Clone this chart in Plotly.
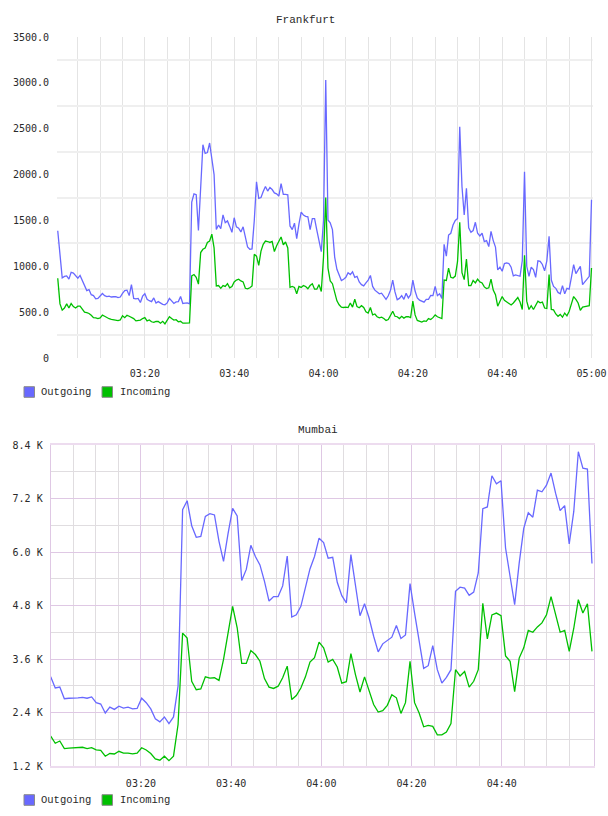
import pandas as pd
import plotly.graph_objects as go

W, H = 608, 816

# ---------------- data ----------------
fra_outgoing = [
    1388, 1150, 873, 890, 895, 860, 935, 925, 900, 870,
    900, 840, 780, 735, 746, 690, 680, 645, 650, 672,
    703, 680, 670, 674, 665, 668, 670, 658, 665, 705,
    735, 740, 680, 800, 650, 645, 650, 605, 674, 700,
    640, 625, 615, 655, 600, 615, 595, 585, 580, 601,
    650, 625, 595, 612, 615, 670, 595, 598, 600, 590,
    1700, 1790, 1780, 1390, 1950, 2326, 2230, 2240, 2344, 2163,
    2000, 1402, 1450, 1410, 1560, 1475, 1495, 1435, 1370, 1529,
    1430, 1415, 1375, 1430, 1315, 1210, 1185, 1190, 1500, 1920,
    1740, 1750, 1815, 1870, 1820, 1860, 1837, 1800, 1790, 1765,
    1900, 1785, 1783, 1780, 1440, 1400, 1470, 1300, 1460, 1590,
    1560, 1545, 1540, 1400, 1520, 1520, 1395, 1280, 1160, 1500,
    3030, 1505, 1475, 1400, 1100, 967, 900, 845, 859, 880,
    930, 910, 940, 880, 890, 830, 800, 786, 820, 850,
    900, 780, 740, 720, 700, 707, 668, 640, 678, 740,
    850, 720, 636, 650, 680, 640, 705, 655, 690, 850,
    730, 656, 630, 620, 609, 640, 640, 681, 680, 780,
    680, 700, 650, 1240, 1110, 1340, 1360, 1450, 1500, 1520,
    2520, 1870, 1560, 1850, 1420, 1370, 1390, 1480, 1360, 1330,
    1360, 1270, 1280, 1215, 1380, 1280, 1210, 960, 990, 946,
    1030, 1036, 1030, 990, 895, 905, 895, 891, 1060, 2030,
    1000, 891, 990, 964, 880, 1060, 1054, 1020, 950, 1060,
    1326, 850, 780, 760, 715, 700, 790, 700, 760, 750,
    880, 1018, 920, 960, 1000, 800, 830, 855, 890, 1725,
]
fra_incoming = [
    870, 590, 522, 545, 590, 545, 594, 560, 545, 565,
    565, 530, 500, 495, 485, 465, 440, 438, 430, 438,
    467, 455, 438, 428, 422, 415, 412, 408, 415, 460,
    440, 465, 455, 440, 430, 405, 410, 413, 430, 440,
    405, 415, 395, 388, 400, 398, 380, 400, 372, 413,
    450, 430, 413, 418, 395, 400, 380, 380, 384, 384,
    895, 910, 880, 805, 1150, 1185, 1200, 1260, 1275, 1350,
    1200, 786, 790, 760, 790, 780, 810, 765, 780, 830,
    850, 860, 840, 830, 760, 754, 766, 786, 1130, 1110,
    1010, 1165, 1240, 1275, 1270, 1260, 1270, 1160, 1225, 1275,
    1320, 1235, 1265, 1200, 770, 780, 770, 700, 780, 770,
    790, 780, 755, 790, 810, 750, 750, 800, 725, 1100,
    1750, 980, 841, 810, 700, 623, 580, 555, 551, 555,
    550, 600, 555, 640, 560, 548, 570, 551, 505, 490,
    550, 470, 480, 450, 437, 445, 430, 410, 420, 465,
    510, 455, 450, 430, 455, 435, 450, 450, 440, 620,
    470, 410, 400, 392, 405, 400, 430, 420, 440, 470,
    450, 440, 430, 850, 845, 980, 880, 872, 893, 1050,
    1480, 930, 855, 1080, 790, 790, 845, 819, 860, 830,
    819, 775, 757, 765, 860, 740, 690, 565, 610, 670,
    630, 610, 594, 578, 600, 630, 660, 610, 529, 1120,
    620, 529, 570, 529, 580, 620, 601, 610, 545, 540,
    909, 530, 525, 480, 455, 475, 445, 490, 460, 510,
    590, 670, 640, 600, 520, 555, 560, 565, 570, 982,
]

# Mumbai values in thousands (K)
mum_outgoing_k = [
    3.20, 2.95, 2.97, 2.71, 2.72, 2.72, 2.73, 2.74, 2.72, 2.75,
    2.62, 2.59, 2.39, 2.52, 2.47, 2.54, 2.50, 2.52, 2.48, 2.49,
    2.72, 2.62, 2.48, 2.26, 2.19, 2.30, 2.15, 2.30, 2.99, 6.95,
    7.15, 6.59, 6.33, 6.35, 6.80, 6.86, 6.83, 6.24, 5.79, 6.42,
    6.98, 6.81, 5.36, 5.61, 6.15, 5.90, 5.71, 5.34, 4.90, 5.00,
    5.00, 5.24, 5.91, 4.54, 4.59, 4.78, 5.19, 5.62, 5.90,
    6.31, 6.21, 5.86, 5.88, 5.32, 5.02, 4.86, 5.94, 5.23, 4.57,
    4.84, 4.52, 4.11, 3.76, 3.94, 4.01, 4.09, 4.35, 4.06, 4.14,
    5.29, 4.63, 4.03, 3.39, 3.45, 3.90, 3.36, 3.06, 3.19, 3.36,
    5.12, 5.21, 5.19, 5.03, 5.10, 5.53, 6.97, 7.01, 7.71, 7.53,
    7.60, 6.09, 5.45, 4.82, 5.75, 6.53, 6.88, 6.78, 7.39, 7.35,
    7.50, 7.77, 7.32, 6.93, 7.04, 6.18, 6.91, 8.25, 7.88, 7.86,
    5.74,
]
mum_incoming_k = [
    1.87, 1.71, 1.76, 1.59, 1.60, 1.61, 1.61, 1.62, 1.59, 1.61,
    1.56, 1.55, 1.42, 1.48, 1.47, 1.53, 1.49, 1.49, 1.47, 1.49,
    1.61, 1.56, 1.48, 1.36, 1.33, 1.42, 1.32, 1.42, 2.13, 4.18,
    4.07, 3.10, 2.91, 2.93, 3.20, 3.17, 3.18, 3.12, 3.59, 4.18,
    4.78, 4.30, 3.50, 3.50, 3.79, 3.70, 3.55, 3.16, 2.97, 2.94,
    2.99, 3.18, 3.44, 2.69, 2.78, 2.95, 3.20, 3.53, 3.63,
    3.98, 3.85, 3.53, 3.59, 3.42, 3.06, 3.09, 3.72, 3.25, 2.86,
    3.20, 2.90, 2.58, 2.41, 2.44, 2.56, 2.80, 2.73, 2.38, 2.62,
    3.55, 2.62, 2.39, 2.08, 2.11, 2.09, 1.90, 1.90, 1.96, 2.15,
    3.36, 3.22, 3.32, 2.97, 3.10, 3.36, 4.85, 4.05, 4.59, 4.63,
    4.57, 3.67, 3.55, 2.87, 3.62, 3.85, 4.24, 4.20, 4.32, 4.41,
    4.59, 5.00, 4.61, 4.20, 4.24, 3.77, 4.29, 4.93, 4.63, 4.84,
    3.77,
]

series_names = ["Outgoing", "Incoming"]
chart_titles = ["Frankfurt", "Mumbai"]

fra_ytick_vals = [0, 500, 1000, 1500, 2000, 2500, 3000, 3500]
fra_ytick_text = ["0", "500.0", "1000.0", "1500.0", "2000.0", "2500.0", "3000.0", "3500.0"]
fra_ygrid_vals = [250, 750, 1250, 1750, 2250, 2750, 3250]
fra_xtick_text = ["03:20", "03:40", "04:00", "04:20", "04:40", "05:00"]

mum_ytick_vals = [1.2, 2.4, 3.6, 4.8, 6.0, 7.2, 8.4]
mum_ytick_text = ["1.2 K", "2.4 K", "3.6 K", "4.8 K", "6.0 K", "7.2 K", "8.4 K"]
mum_ygrid_minor = [1.8, 3.0, 4.2, 5.4, 6.6, 7.8]
mum_xtick_text = ["03:20", "03:40", "04:00", "04:20", "04:40"]

DAY = "2024-01-01 "
fra_time = pd.date_range(DAY + "03:00:30", periods=len(fra_outgoing), freq="30s")
mum_time = pd.date_range(DAY + "03:00:00", DAY + "05:00:00", periods=len(mum_outgoing_k))

fra_xtick_vals = [pd.Timestamp(DAY + t) for t in fra_xtick_text]
mum_xtick_vals = [pd.Timestamp(DAY + t) for t in mum_xtick_text]
fra_minor_x = list(pd.date_range(DAY + "03:05", DAY + "04:55", freq="5min"))
mum_minor_x = list(pd.date_range(DAY + "03:05", DAY + "04:55", freq="5min"))

# ---------------- style ----------------
BLUE = "#6868ff"
GREEN = "#00c000"
AXFONT = "DejaVu Sans Mono"
LGFONT = "Liberation Mono"
TXT = "#2a2a2a"


def px_x(p):
    return p / W


def px_y(p):
    return 1 - p / H


fig = go.Figure()
fig.add_trace(go.Scatter(x=fra_time, y=fra_outgoing, mode="lines", name=series_names[0],
                         line=dict(color=BLUE, width=1.3), xaxis="x", yaxis="y"))
fig.add_trace(go.Scatter(x=fra_time, y=fra_incoming, mode="lines", name=series_names[1],
                         line=dict(color=GREEN, width=1.3), xaxis="x", yaxis="y"))
fig.add_trace(go.Scatter(x=mum_time, y=mum_outgoing_k, mode="lines", name=series_names[0],
                         line=dict(color=BLUE, width=1.3), xaxis="x2", yaxis="y2"))
fig.add_trace(go.Scatter(x=mum_time, y=mum_incoming_k, mode="lines", name=series_names[1],
                         line=dict(color=GREEN, width=1.3), xaxis="x2", yaxis="y2"))

tickfont = dict(family=AXFONT, size=10, color=TXT)

fig.update_layout(
    width=W, height=H, autosize=False,
    margin=dict(l=0, r=0, t=0, b=0, pad=0),
    paper_bgcolor="white", plot_bgcolor="white",
    showlegend=False, hovermode=False,
    xaxis=dict(
        domain=[px_x(57), px_x(593)], automargin=False,
        range=[pd.Timestamp(DAY + "03:00:20"), pd.Timestamp(DAY + "05:00:20")],
        tickmode="array", tickvals=fra_xtick_vals, ticktext=fra_xtick_text,
        showgrid=True, gridcolor="#e4e4e4", gridwidth=1,
        minor=dict(tickmode="array", tickvals=fra_minor_x, showgrid=True,
                   gridcolor="#e4e4e4", gridwidth=1, ticks=""),
        ticks="outside", ticklen=6, tickcolor="rgba(0,0,0,0)",
        tickfont=tickfont, showline=False, zeroline=False, anchor="y",
    ),
    yaxis=dict(
        domain=[px_y(358), px_y(37)], automargin=False,
        range=[0, 3500],
        tickmode="array", tickvals=fra_ytick_vals, ticktext=fra_ytick_text,
        showgrid=False,
        minor=dict(tickmode="array", tickvals=fra_ygrid_vals, showgrid=True,
                   gridcolor="#efefef", gridwidth=2, ticks=""),
        ticks="outside", ticklen=5, tickcolor="rgba(0,0,0,0)",
        tickfont=tickfont, showline=False, zeroline=False, anchor="x",
    ),
    xaxis2=dict(
        domain=[px_x(50.7), px_x(594)], automargin=False,
        range=[pd.Timestamp(DAY + "03:00:00"), pd.Timestamp(DAY + "05:00:27")],
        tickmode="array", tickvals=mum_xtick_vals, ticktext=mum_xtick_text,
        showgrid=True, gridcolor="#dfc8e4", gridwidth=1,
        minor=dict(tickmode="array", tickvals=mum_minor_x, showgrid=True,
                   gridcolor="#e0dde0", gridwidth=1, ticks=""),
        ticks="outside", ticklen=7, tickcolor="rgba(0,0,0,0)",
        tickfont=tickfont, showline=True, mirror=True, linecolor="#eddcef", linewidth=2,
        zeroline=False, anchor="y2",
    ),
    yaxis2=dict(
        domain=[px_y(766), px_y(445)], automargin=False,
        range=[1.2, 8.4],
        tickmode="array", tickvals=mum_ytick_vals, ticktext=mum_ytick_text,
        showgrid=True, gridcolor="#dfc8e4", gridwidth=1,
        minor=dict(tickmode="array", tickvals=mum_ygrid_minor, showgrid=True,
                   gridcolor="#e0dde0", gridwidth=1, ticks=""),
        ticks="outside", ticklen=5, tickcolor="rgba(0,0,0,0)",
        tickfont=tickfont, showline=True, mirror=True, linecolor="#dfc8e4", linewidth=1,
        zeroline=False, anchor="x2",
    ),
)

annotations = []
shapes = []
# titles
for title, cx, cy in [(chart_titles[0], 305, 20), (chart_titles[1], 318, 430)]:
    annotations.append(dict(text=title, x=px_x(cx), y=px_y(cy), xref="paper", yref="paper",
                            xanchor="center", yanchor="middle", showarrow=False,
                            font=dict(family=LGFONT, size=11, color=TXT)))

# legends
for ly in (392, 800):
    for (sx, tx, color, name) in [(24, 39, BLUE, series_names[0]), (102, 118, GREEN, series_names[1])]:
        shapes.append(dict(type="rect", xref="paper", yref="paper",
                           x0=px_x(sx), x1=px_x(sx + 10.5), y0=px_y(ly + 5.3), y1=px_y(ly - 5.3),
                           fillcolor=color, line=dict(color="#8a8a8a", width=1)))
        annotations.append(dict(text=name, x=px_x(tx), y=px_y(ly), xref="paper", yref="paper",
                                xanchor="left", yanchor="middle", showarrow=False,
                                font=dict(family=LGFONT, size=10.5, color=TXT)))

fig.update_layout(annotations=annotations, shapes=shapes)

fig.write_html(
    "out.html",
    config={"responsive": False, "displayModeBar": False},
    post_script="document.body.style.margin='0';document.body.style.overflow='hidden';"
                "document.documentElement.style.overflow='hidden';",
)
